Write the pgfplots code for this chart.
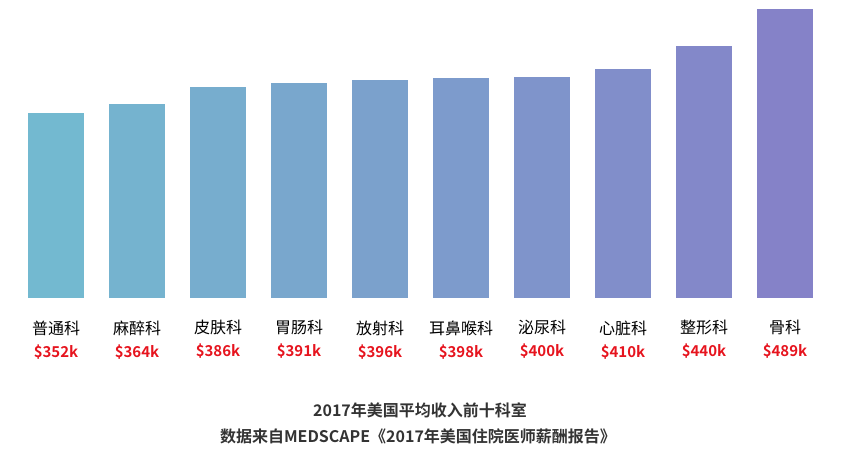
\documentclass[border=0pt]{standalone}
\usepackage{pgfplots}
\pgfplotsset{compat=1.18}
\usepackage{fontspec}
\setmainfont{Noto Sans CJK SC}[BoldFont={Noto Sans CJK SC Bold}]
\definecolor{c0}{RGB}{115,185,208}
\definecolor{c1}{RGB}{117,179,207}
\definecolor{c2}{RGB}{119,173,206}
\definecolor{c3}{RGB}{121,167,205}
\definecolor{c4}{RGB}{123,161,204}
\definecolor{c5}{RGB}{125,155,204}
\definecolor{c6}{RGB}{127,148,203}
\definecolor{c7}{RGB}{129,142,202}
\definecolor{c8}{RGB}{131,136,201}
\definecolor{c9}{RGB}{133,130,200}
\definecolor{valred}{RGB}{230,20,30}
\definecolor{titlegray}{RGB}{51,51,51}
\newcommand{\val}[1]{\textcolor{valred}{\fontsize{15pt}{15pt}\selectfont\textbf{\$#1k}}}
\begin{document}
\begin{tikzpicture}
\useasboundingbox (0pt,-155pt) rectangle (851pt,298pt);
\begin{axis}[
  scale only axis,
  width=851pt, height=298pt,
  xmin=-0.6914, xmax=9.8148,
  ymin=108.3, ymax=500.9,
  axis x line=bottom, axis y line=none,
  x axis line style={draw=none},
  ytick=\empty,
  xtick={0,...,9},
  major tick length=0pt,
  xticklabels={
    {普通科\\\val{352}},
    {麻醉科\\\val{364}},
    {皮肤科\\\val{386}},
    {胃肠科\\\val{391}},
    {放射科\\\val{396}},
    {耳鼻喉科\\\val{398}},
    {泌尿科\\\val{400}},
    {心脏科\\\val{410}},
    {整形科\\\val{440}},
    {骨科\\\val{489}}},
  x tick label style={align=center, font=\fontsize{16pt}{23pt}\selectfont, text=black, yshift=-19pt},
  clip=true,
]
\addplot[ybar, bar width=56pt, bar shift=0pt, fill=c0, draw=none] coordinates {(0,352)};
\addplot[ybar, bar width=56pt, bar shift=0pt, fill=c1, draw=none] coordinates {(1,364)};
\addplot[ybar, bar width=56pt, bar shift=0pt, fill=c2, draw=none] coordinates {(2,386)};
\addplot[ybar, bar width=56pt, bar shift=0pt, fill=c3, draw=none] coordinates {(3,391)};
\addplot[ybar, bar width=56pt, bar shift=0pt, fill=c4, draw=none] coordinates {(4,396)};
\addplot[ybar, bar width=56pt, bar shift=0pt, fill=c5, draw=none] coordinates {(5,398)};
\addplot[ybar, bar width=56pt, bar shift=0pt, fill=c6, draw=none] coordinates {(6,400)};
\addplot[ybar, bar width=56pt, bar shift=0pt, fill=c7, draw=none] coordinates {(7,410)};
\addplot[ybar, bar width=56pt, bar shift=0pt, fill=c8, draw=none] coordinates {(8,440)};
\addplot[ybar, bar width=56pt, bar shift=0pt, fill=c9, draw=none] coordinates {(9,489)};
\end{axis}
\node[font=\bfseries\fontsize{16pt}{18pt}\selectfont, text=titlegray] at (420pt,-112pt) {2017年美国平均收入前十科室};
\node[font=\bfseries\fontsize{16pt}{18pt}\selectfont, text=titlegray] at (418pt,-138pt) {数据来自MEDSCAPE《2017年美国住院医师薪酬报告》};
\end{tikzpicture}
\end{document}
